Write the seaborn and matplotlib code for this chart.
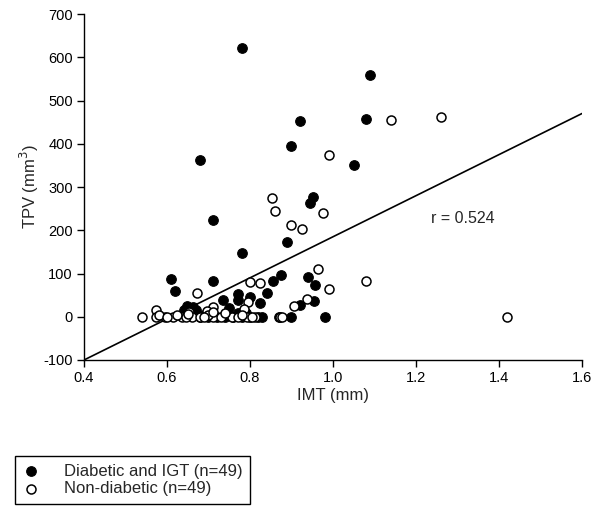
import numpy as np
import pandas as pd
import matplotlib
matplotlib.use("Agg")
import matplotlib.pyplot as plt
import seaborn as sns

# diabetic and IGT (filled)
diab_imt = [0.78, 1.09, 1.08, 0.92, 0.90, 0.68, 1.05, 0.953, 0.945, 0.71,
            0.89, 0.78, 0.61, 0.62, 0.71, 0.875, 0.855, 0.94, 0.957, 0.84,
            0.77, 0.80, 0.77, 0.735, 0.825, 0.955, 0.92, 0.647, 0.663, 0.64,
            0.67, 0.77, 0.79, 0.655, 0.68, 0.70, 0.72, 0.74, 0.76, 0.78,
            0.80, 0.82, 0.83, 0.87, 0.90, 0.98, 0.66, 0.75, 0.69]
diab_tpv = [622, 558, 458, 452, 395, 363, 350, 276, 264, 223,
            174, 147, 87, 60, 82, 96, 83, 92, 73, 56,
            53, 46, 39, 39, 31, 36, 27, 25, 22, 16,
            16, 9, 9, 5, 0, 0, 0, 0, 0, 0,
            0, 0, 0, 0, 0, 0, 10, 20, 5]

# non-diabetic (open)
non_imt = [1.26, 1.14, 0.99, 0.853, 0.86, 0.975, 0.90, 0.925, 0.965, 1.08,
           0.80, 0.825, 0.99, 0.672, 0.938, 0.905, 0.796, 0.786, 0.712, 0.696,
           0.573, 0.652, 1.42, 0.54, 0.573, 0.595, 0.615, 0.635, 0.66, 0.712,
           0.756, 0.792, 0.812, 0.872, 0.876, 0.58, 0.625, 0.645, 0.68, 0.70,
           0.73, 0.77, 0.78, 0.60, 0.69, 0.74, 0.805, 0.65, 0.71]
non_tpv = [461, 455, 375, 275, 245, 241, 213, 202, 110, 83,
           81, 79, 64, 56, 40, 26, 33, 17, 22, 14,
           16, 12, 0, 0, 0, 0, 0, 0, 0, 0,
           0, 0, 0, 0, 0, 5, 3, 0, 0, 5,
           0, 0, 3, 0, 0, 8, 0, 6, 10]

# regression line
line_x = [0.4, 1.6]
slope = 475.0
intercept = -290.0
r_text = "r = 0.524"

diab_label = "Diabetic and IGT (n=49)"
non_label = "Non-diabetic (n=49)"

sns.set_theme(style="white", rc={
    'axes.spines.top': False,
    'axes.spines.right': False,
    'axes.edgecolor': 'black',
    'axes.linewidth': 1.0,
    'axes.unicode_minus': False,
    'xtick.bottom': True,
    'ytick.left': True,
    'xtick.major.size': 5,
    'ytick.major.size': 5,
    'xtick.direction': 'out',
    'ytick.direction': 'out',
})
plt.rcParams['font.family'] = ['Liberation Sans', 'DejaVu Sans']

df_d = pd.DataFrame({'IMT': diab_imt, 'TPV': diab_tpv})
df_n = pd.DataFrame({'IMT': non_imt, 'TPV': non_tpv})

fig = plt.figure(figsize=(6.0, 5.11), dpi=100)
ax = fig.add_axes([0.14, 0.2955, 0.83, 0.677])

# regression line
lx = np.array(line_x)
ax.plot(lx, intercept + slope * lx, color='black', lw=1.2, zorder=1)

sns.scatterplot(data=df_d, x='IMT', y='TPV', ax=ax, s=48, marker='o',
                color='black', edgecolor='black', linewidth=0.8,
                label=diab_label, zorder=3)
sns.scatterplot(data=df_n, x='IMT', y='TPV', ax=ax, s=42, marker='o',
                facecolor='white', edgecolor='black', linewidth=1.1,
                label=non_label, zorder=4)

ax.set_xlim(0.4, 1.6)
ax.set_ylim(-100, 700)
ax.set_xticks([0.4, 0.6, 0.8, 1.0, 1.2, 1.4, 1.6])
ax.set_xticklabels(['0.4', '0.6', '0.8', '1.0', '1.2', '1.4', '1.6'])
ax.set_yticks(range(-100, 701, 100))
ax.tick_params(axis='both', labelsize=10.5, colors='black', width=1, pad=3)
ax.set_xlabel('IMT (mm)', fontsize=12, labelpad=2)
ax.set_ylabel('TPV (mm$^3$)', fontsize=12, labelpad=2)

ax.text(1.236, 228, r_text, fontsize=11.5, va='center')

handles, labels = ax.get_legend_handles_labels()
ax.get_legend().remove()
leg = fig.legend(handles, labels, loc='upper left',
                 bbox_to_anchor=(0.025, 0.107), bbox_transform=fig.transFigure,
                 fontsize=12, frameon=True, fancybox=False, framealpha=1,
                 edgecolor='black', borderpad=0.45, labelspacing=0.15,
                 handletextpad=1.5, borderaxespad=0, handlelength=1.0)
leg.get_frame().set_linewidth(1.0)

fig.savefig('out.png', dpi=100)
